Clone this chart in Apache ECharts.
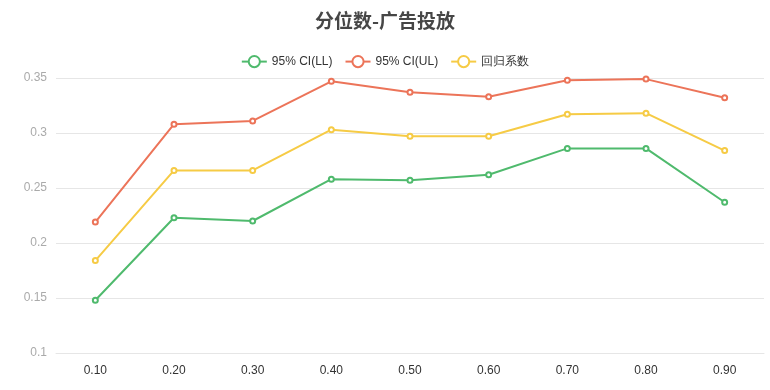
<!DOCTYPE html>
<html><head><meta charset="utf-8">
<script src="https://cdn.jsdelivr.net/npm/echarts@6/dist/echarts.min.js"></script>
<style>html,body{margin:0;padding:0;background:#fff}#c{width:770px;height:390px}</style>
</head><body><div id="c"></div>
<script>
const categories = ['0.10','0.20','0.30','0.40','0.50','0.60','0.70','0.80','0.90'];
const seriesNames = ['95% CI(LL)','95% CI(UL)','回归系数'];
const ll = [0.148,0.223,0.220,0.258,0.257,0.262,0.286,0.286,0.237];
const ul = [0.219,0.308,0.311,0.347,0.337,0.333,0.348,0.349,0.332];
const coef = [0.184,0.266,0.266,0.303,0.297,0.297,0.317,0.318,0.284];
const colors = ['#4fba6d','#ec7459','#f6cb45'];
const chart = echarts.init(document.getElementById('c'));
const mk = (name, data, i) => ({
  name, type:'line', data, symbol:'emptyCircle', symbolSize:5,
  lineStyle:{width:2,color:colors[i]}, itemStyle:{color:colors[i]}
});
chart.setOption({
  animation:false,
  title:{text:'分位数-广告投放',left:'center',top:6,textStyle:{fontSize:19,fontWeight:'bold',color:'#464646',fontFamily:'Noto Sans CJK SC'}},
  legend:{top:50,left:'center',itemWidth:25,itemHeight:14,itemGap:12,textStyle:{fontSize:12,color:'#333'},data:seriesNames},
  grid:{left:56,right:6,top:78,bottom:37},
  xAxis:{type:'category',data:categories,boundaryGap:true,
    axisLine:{show:true,lineStyle:{color:'#e6e6e6'}},axisTick:{show:false},
    axisLabel:{color:'#333',fontSize:12,margin:12}},
  yAxis:{type:'value',min:0.1,max:0.35,interval:0.05,
    axisLine:{show:false},axisTick:{show:false},
    axisLabel:{color:'#aaa',fontSize:12,margin:9},
    splitLine:{lineStyle:{color:'#e6e6e6'}}},
  series:[mk(seriesNames[0],ll,0),mk(seriesNames[1],ul,1),mk(seriesNames[2],coef,2)]
});
</script></body></html>
